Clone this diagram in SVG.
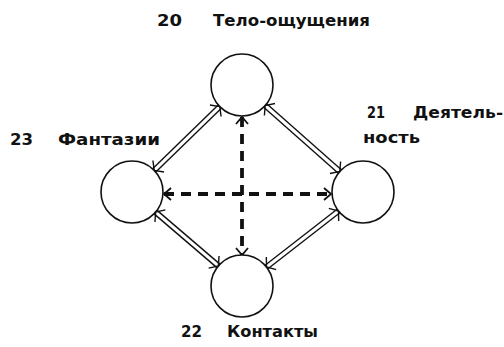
<svg xmlns="http://www.w3.org/2000/svg" width="504" height="347" viewBox="0 0 504 347">
<style>
.node{fill:#fff;stroke:#111;stroke-width:1.6}
.lbl{font-family:"DejaVu Sans","Liberation Sans",sans-serif;font-weight:bold;font-size:15px;fill:#111}
.dbl-o{stroke:#111;stroke-width:6;fill:none}
.dbl-i{stroke:#fff;stroke-width:3.2;fill:none}
.dash{stroke:#111;stroke-width:3.8;stroke-dasharray:10 7;fill:none}
.mk{stroke:none;fill:none}
</style>
<defs>
<marker id="av" markerUnits="userSpaceOnUse" markerWidth="24" markerHeight="24" refX="0" refY="0" viewBox="-12 -12 24 24" orient="auto-start-reverse">
<path d="M -6 -8 L 0 0 L -6 8" fill="none" stroke="#111" stroke-width="1.4"/>
</marker>
<marker id="ad" markerUnits="userSpaceOnUse" markerWidth="24" markerHeight="24" refX="0" refY="0" viewBox="-12 -12 24 24" orient="auto-start-reverse">
<path d="M -7 -6 L 0 0 L -7 6" fill="none" stroke="#111" stroke-width="1.8"/>
</marker>
</defs>
<rect width="504" height="347" fill="#fff"/>
<g id="connectors">
<g id="e-left-top">
<line class="dbl-o" x1="154.2" y1="170.4" x2="219.8" y2="106.6"/>
<line class="dbl-i" x1="154.2" y1="170.4" x2="219.8" y2="106.6"/>
<line class="mk" x1="154.2" y1="170.4" x2="219.8" y2="106.6" marker-start="url(#av)" marker-end="url(#av)"/>
</g>
<g id="e-top-right">
<line class="dbl-o" x1="265.2" y1="105.5" x2="339.8" y2="171.5"/>
<line class="dbl-i" x1="265.2" y1="105.5" x2="339.8" y2="171.5"/>
<line class="mk" x1="265.2" y1="105.5" x2="339.8" y2="171.5" marker-start="url(#av)" marker-end="url(#av)"/>
</g>
<g id="e-left-bottom">
<line class="dbl-o" x1="155.6" y1="212.1" x2="218.4" y2="265.9"/>
<line class="dbl-i" x1="155.6" y1="212.1" x2="218.4" y2="265.9"/>
<line class="mk" x1="155.6" y1="212.1" x2="218.4" y2="265.9" marker-start="url(#av)" marker-end="url(#av)"/>
</g>
<g id="e-right-bottom">
<line class="dbl-o" x1="338.5" y1="211.0" x2="266.5" y2="267.0"/>
<line class="dbl-i" x1="338.5" y1="211.0" x2="266.5" y2="267.0"/>
<line class="mk" x1="338.5" y1="211.0" x2="266.5" y2="267.0" marker-start="url(#av)" marker-end="url(#av)"/>
</g>
<line id="e-left-right" class="dash" x1="164" y1="194" x2="331" y2="194" marker-start="url(#ad)" marker-end="url(#ad)"/>
<line id="e-top-bottom" class="dash" x1="242" y1="117" x2="242" y2="255" marker-start="url(#ad)" marker-end="url(#ad)"/>
</g>
<g id="n20">
<circle class="node" cx="242" cy="85" r="31"/>
<text class="lbl" x="157" y="26" textLength="25" lengthAdjust="spacingAndGlyphs">20</text>
<text class="lbl" x="213" y="26" textLength="157" lengthAdjust="spacingAndGlyphs">Тело-ощущения</text>
</g>
<g id="n23">
<circle class="node" cx="132" cy="192" r="31"/>
<text class="lbl" x="10" y="145" textLength="23" lengthAdjust="spacingAndGlyphs">23</text>
<text class="lbl" x="58" y="145" textLength="102" lengthAdjust="spacingAndGlyphs">Фантазии</text>
</g>
<g id="n21">
<circle class="node" cx="363" cy="192" r="31"/>
<text class="lbl" x="367" y="118" textLength="18" lengthAdjust="spacingAndGlyphs">21</text>
<text class="lbl" x="413" y="118" textLength="90" lengthAdjust="spacingAndGlyphs">Деятель-</text>
<text class="lbl" x="363" y="143" textLength="57" lengthAdjust="spacingAndGlyphs">ность</text>
</g>
<g id="n22">
<circle class="node" cx="242" cy="286" r="31"/>
<text class="lbl" x="181" y="337" textLength="21" lengthAdjust="spacingAndGlyphs">22</text>
<text class="lbl" x="227" y="337" textLength="91" lengthAdjust="spacingAndGlyphs">Контакты</text>
</g>
</svg>
